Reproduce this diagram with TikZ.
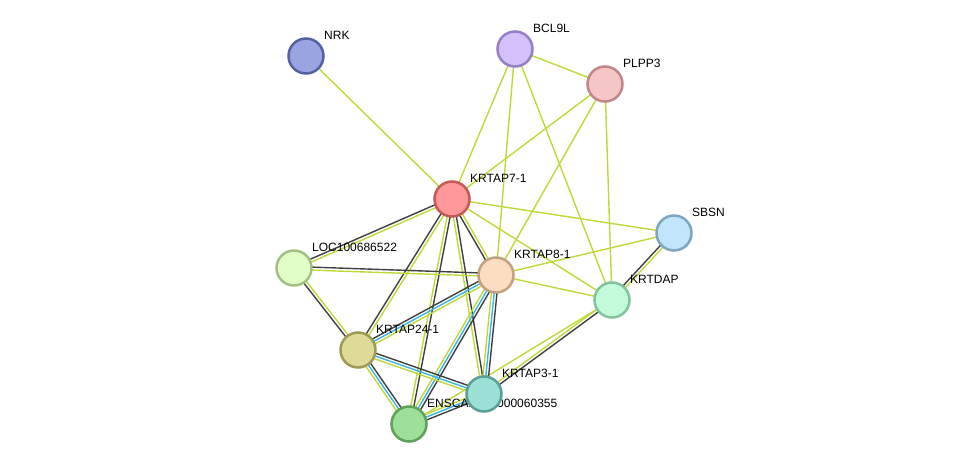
\documentclass[tikz,border=0pt]{standalone}
\usepackage{fontspec}
\setmainfont{Liberation Sans}
\usetikzlibrary{calc}
\pgfdeclarelayer{edges}
\pgfdeclarelayer{labels}
\pgfsetlayers{edges,labels,main}
\definecolor{tm}{HTML}{C0D93A}
\definecolor{db}{HTML}{3AB5E4}
\definecolor{cx}{HTML}{404040}
\newcommand\pedge[4]{\draw[ed,#4] ($(#1)!#3!90:(#2)$) -- ($(#2)!#3!-90:(#1)$);}
\tikzset{
  prot/.style={circle, minimum size=35pt, inner sep=0pt, line width=2.5pt},
  lab/.style={anchor=west, font=\fontsize{12}{14}\selectfont, inner sep=0pt, text=black},
  ed/.style={line width=1.4pt}
}
\begin{document}
\begin{tikzpicture}[x=1pt,y=-1pt]
\useasboundingbox (0,0) rectangle (975,470);
% nodes
\node[prot, fill={rgb,255:red,154;green,164;blue,224}, draw={rgb,255:red,84;green,97;blue,163}] (nrk) at (306,56) {};
\node[lab] (nrkl) at ($(nrk)+(18,-21)$) {NRK};
\node[prot, fill={rgb,255:red,211;green,193;blue,249}, draw={rgb,255:red,149;green,128;blue,198}] (bcl) at (515,49) {};
\node[lab] (bcll) at ($(bcl)+(18,-21)$) {BCL9L};
\node[prot, fill={rgb,255:red,246;green,198;blue,198}, draw={rgb,255:red,191;green,135;blue,135}] (plp) at (605,84) {};
\node[lab] (plpl) at ($(plp)+(18,-21)$) {PLPP3};
\node[prot, fill={rgb,255:red,255;green,152;blue,152}, draw={rgb,255:red,195;green,90;blue,90}] (k71) at (452,199) {};
\node[lab] (k71l) at ($(k71)+(18,-21)$) {KRTAP7-1};
\node[prot, fill={rgb,255:red,193;green,230;blue,251}, draw={rgb,255:red,127;green,166;blue,193}] (sbsn) at (674,233) {};
\node[lab] (sbsnl) at ($(sbsn)+(18,-21)$) {SBSN};
\node[prot, fill={rgb,255:red,225;green,255;blue,198}, draw={rgb,255:red,163;green,193;blue,134}] (loc) at (294,268) {};
\node[lab] (locl) at ($(loc)+(18,-21)$) {LOC100686522};
\node[prot, fill={rgb,255:red,253;green,221;blue,193}, draw={rgb,255:red,194;green,162;blue,131}] (k81) at (496,275) {};
\node[lab] (k81l) at ($(k81)+(18,-21)$) {KRTAP8-1};
\node[prot, fill={rgb,255:red,194;green,252;blue,219}, draw={rgb,255:red,130;green,194;blue,157}] (dap) at (612,300) {};
\node[lab] (dapl) at ($(dap)+(18,-21)$) {KRTDAP};
\node[prot, fill={rgb,255:red,222;green,219;blue,151}, draw={rgb,255:red,158;green,154;blue,87}] (k241) at (358,350) {};
\node[lab] (k241l) at ($(k241)+(18,-21)$) {KRTAP24-1};
\node[prot, fill={rgb,255:red,158;green,224;blue,154}, draw={rgb,255:red,95;green,161;blue,90}] (ens) at (409,424) {};
\node[lab] (ensl) at ($(ens)+(18,-21)$) {ENSCAFP00000060355};
\node[prot, fill={rgb,255:red,155;green,223;blue,214}, draw={rgb,255:red,90;green,159;blue,150}] (k31) at (484,394) {};
\node[lab] (k31l) at ($(k31)+(18,-21)$) {KRTAP3-1};
% edges
\begin{pgfonlayer}{edges}
\fill[white] (0,0) rectangle (975,470);
\pedge{nrk}{k71}{0pt}{tm}
\pedge{bcl}{plp}{0pt}{tm}
\pedge{bcl}{k71}{0pt}{tm}
\pedge{bcl}{k81}{0pt}{tm}
\pedge{bcl}{dap}{0pt}{tm}
\pedge{plp}{k71}{0pt}{tm}
\pedge{plp}{k81}{0pt}{tm}
\pedge{plp}{dap}{0pt}{tm}
\pedge{k71}{sbsn}{0pt}{tm}
\pedge{k71}{dap}{0pt}{tm}
\pedge{k81}{sbsn}{0pt}{tm}
\pedge{k81}{dap}{0pt}{tm}
\pedge{dap}{ens}{0pt}{tm}
% two-line edges
\pedge{k71}{loc}{1.5pt}{tm}\pedge{k71}{loc}{-1.5pt}{cx}
\pedge{k71}{k81}{1.5pt}{tm}\pedge{k71}{k81}{-1.5pt}{cx}
\pedge{k71}{k241}{1.5pt}{tm}\pedge{k71}{k241}{-1.5pt}{cx}
\pedge{k71}{ens}{1.5pt}{cx}\pedge{k71}{ens}{-1.5pt}{tm}
\pedge{k71}{k31}{1.5pt}{cx}\pedge{k71}{k31}{-1.5pt}{tm}
\pedge{loc}{k81}{1.5pt}{cx}\pedge{loc}{k81}{-1.5pt}{tm}
\pedge{loc}{k241}{1.5pt}{tm}\pedge{loc}{k241}{-1.5pt}{cx}
\pedge{dap}{k31}{1.5pt}{cx}\pedge{dap}{k31}{-1.5pt}{tm}
\pedge{dap}{sbsn}{1.5pt}{cx}\pedge{dap}{sbsn}{-1.5pt}{tm}
% three-line edges
\pedge{k81}{k241}{2.8pt}{tm}\pedge{k81}{k241}{0pt}{db}\pedge{k81}{k241}{-2.8pt}{cx}
\pedge{k81}{ens}{2.8pt}{cx}\pedge{k81}{ens}{0pt}{db}\pedge{k81}{ens}{-2.8pt}{tm}
\pedge{k81}{k31}{2.8pt}{cx}\pedge{k81}{k31}{0pt}{db}\pedge{k81}{k31}{-2.8pt}{tm}
\pedge{k241}{k31}{2.8pt}{cx}\pedge{k241}{k31}{0pt}{db}\pedge{k241}{k31}{-2.8pt}{tm}
\pedge{k241}{ens}{2.8pt}{cx}\pedge{k241}{ens}{0pt}{db}\pedge{k241}{ens}{-2.8pt}{tm}
\pedge{ens}{k31}{2.8pt}{tm}\pedge{ens}{k31}{0pt}{db}\pedge{ens}{k31}{-2.8pt}{cx}
\end{pgfonlayer}
\end{tikzpicture}
\end{document}
